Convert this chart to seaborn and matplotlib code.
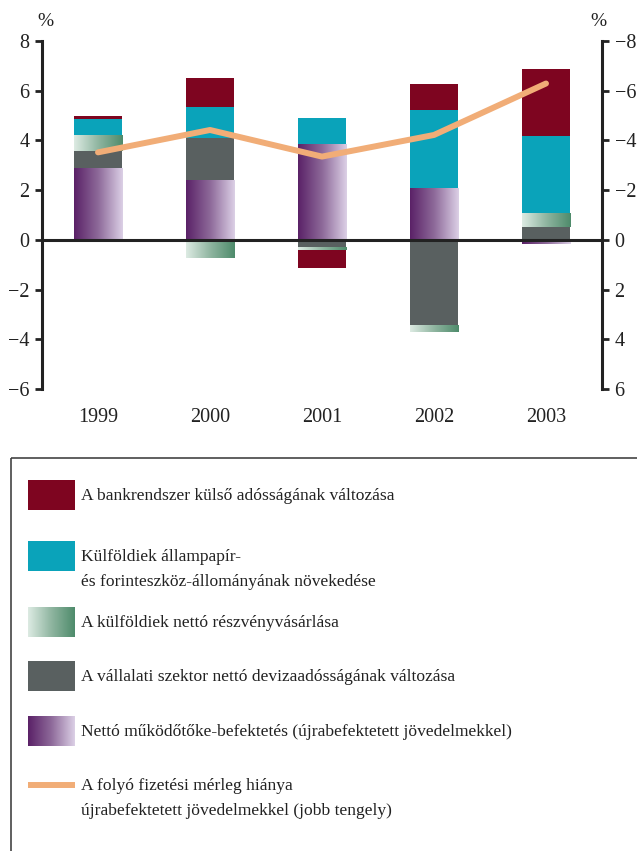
import matplotlib
matplotlib.use("Agg")
import matplotlib.pyplot as plt
import numpy as np
import seaborn as sns
from matplotlib.colors import LinearSegmentedColormap
from matplotlib.patches import Rectangle

# Adatok (GDP %-ban)
years = ["1999", "2000", "2001", "2002", "2003"]
fdi = [2.88, 2.42, 3.86, 2.10, -0.15]            # Netto mukodotoke-befektetes
corporate = [0.69, 1.69, -0.30, -3.41, 0.52]     # Vallalati szektor devizaadossaga
equity = [0.66, -0.71, -0.10, -0.31, 0.58]       # Kulfoldiek reszvenyvasarlasa
securities = [0.64, 1.23, 1.04, 3.13, 3.08]      # Allampapir- es forinteszkoz
bank_debt = [0.11, 1.16, -0.75, 1.04, 2.69]      # Bankrendszer kulso adossaga
deficit = [-3.52, -4.42, -3.35, -4.22, -6.29]    # Folyo fizetesi merleg hianya (jobb tengely)

labels = [
    "A bankrendszer külső adósságának változása",
    "Külföldiek állampapír-\nés forinteszköz-állományának növekedése",
    "A külföldiek nettó részvényvásárlása",
    "A vállalati szektor nettó devizaadósságának változása",
    "Nettó működőtőke-befektetés (újrabefektetett jövedelmekkel)",
    "A folyó fizetési mérleg hiánya\nújrabefektetett jövedelmekkel (jobb tengely)",
]

red = "#7E0520"
cyan = "#0AA3BA"
gray = "#596060"
orange = "#F1AD77"
purple_cmap = LinearSegmentedColormap.from_list("purp", ["#5A2167", "#8E6A9A", "#DCD0E6"])
green_cmap = LinearSegmentedColormap.from_list("grn", ["#DDEBE3", "#8FB5A0", "#4E8B6B"])

sns.set_style("ticks")
plt.rcParams["font.family"] = ["Liberation Serif", "DejaVu Serif"]
plt.rcParams["axes.unicode_minus"] = True

fig = plt.figure(figsize=(6.37, 8.51), dpi=100)
ax = fig.add_axes([42 / 637, 1 - 389 / 851, 560 / 637, 348 / 851])
ax2 = ax.twinx()

x = np.arange(len(years))
width = 0.43

# stacked bars, positive and negative separately
series = [(fdi, "grad_p"), (corporate, gray), (equity, "grad_g"), (securities, cyan), (bank_debt, red)]
pos_base = np.zeros(len(years))
neg_base = np.zeros(len(years))
for vals, col in series:
    vals = np.array(vals)
    bottom = np.where(vals >= 0, pos_base, neg_base)
    if col.startswith("grad"):
        bars = ax.bar(x, vals, width, bottom=bottom, color="none", linewidth=0)
        cmap = purple_cmap if col == "grad_p" else green_cmap
        grad = np.linspace(0, 1, 256).reshape(1, -1)
        for b in bars:
            bb = b.get_bbox()
            im = ax.imshow(grad, extent=[bb.x0, bb.x1, bb.y0, bb.y1], aspect="auto",
                           cmap=cmap, zorder=2, interpolation="bilinear")
            im.set_clip_path(b)
    else:
        ax.bar(x, vals, width, bottom=bottom, color=col, linewidth=0, zorder=2)
    pos_base = pos_base + np.where(vals >= 0, vals, 0)
    neg_base = neg_base + np.where(vals < 0, vals, 0)

ax.axhline(0, color="#222222", lw=2.2, zorder=3)

sns.lineplot(x=x, y=deficit, ax=ax2, color=orange, lw=4.3, zorder=4)

ax.set_xlim(-0.5, 4.5)
ax.set_ylim(-6, 8)
ax.set_yticks(range(-6, 9, 2))
ax2.set_ylim(6, -8)
ax2.set_yticks(range(-8, 7, 2))

ax.set_xticks(x)
ax.set_xticklabels(years)
ax.tick_params(axis="x", length=0, pad=14, labelsize=14.5, colors="#222222")
ax.tick_params(axis="y", direction="out", length=5, width=2, labelsize=14.5, pad=4, colors="#222222")
ax2.tick_params(axis="y", direction="out", length=5, width=2, labelsize=14.5, pad=4, colors="#222222")

for s in ["top", "bottom", "right"]:
    ax.spines[s].set_visible(False)
for s in ["top", "bottom", "left"]:
    ax2.spines[s].set_visible(False)
ax.spines["left"].set_linewidth(2.2)
ax.spines["left"].set_color("#222222")
ax2.spines["right"].set_linewidth(2.2)
ax2.spines["right"].set_color("#222222")
ax.set_xlabel("")
ax.set_ylabel("")
ax2.set_ylabel("")

fig.text(45 / 637, 1 - 21 / 851, "%", fontsize=14, ha="center", va="center", color="#222222")
fig.text(598 / 637, 1 - 21 / 851, "%", fontsize=14, ha="center", va="center", color="#222222")

# Jelmagyarazat (kezi elrendezes, pixel koordinatakban)
lg = fig.add_axes([0, 0, 1, 1])
lg.set_xlim(0, 637)
lg.set_ylim(851, 0)
lg.axis("off")
lg.add_patch(Rectangle((11, 458), 700, 500, fill=False, edgecolor="#444444", lw=1.2))

centers = [495, 556, 622, 676, 731, 785]
swatches = [red, cyan, "grad_g", gray, "grad_p", "line"]
for cy, sw, lab in zip(centers, swatches, labels):
    if sw == "line":
        lg.plot([28, 75], [cy, cy], color=orange, lw=4.3, solid_capstyle="butt")
    elif sw.startswith("grad"):
        cmap = purple_cmap if sw == "grad_p" else green_cmap
        lg.imshow(np.linspace(0, 1, 256).reshape(1, -1), extent=[28, 75, cy + 15, cy - 15],
                  aspect="auto", cmap=cmap, interpolation="bilinear")
    else:
        lg.add_patch(Rectangle((28, cy - 15), 47, 30, color=sw, lw=0))
    for i, line in enumerate(lab.split("\n")):
        lg.text(81, cy + 1 + i * 25, line, fontsize=12.6, va="center", ha="left", color="#222222")
lg.set_xlim(0, 637)
lg.set_ylim(851, 0)

fig.savefig("out.png", dpi=100)
